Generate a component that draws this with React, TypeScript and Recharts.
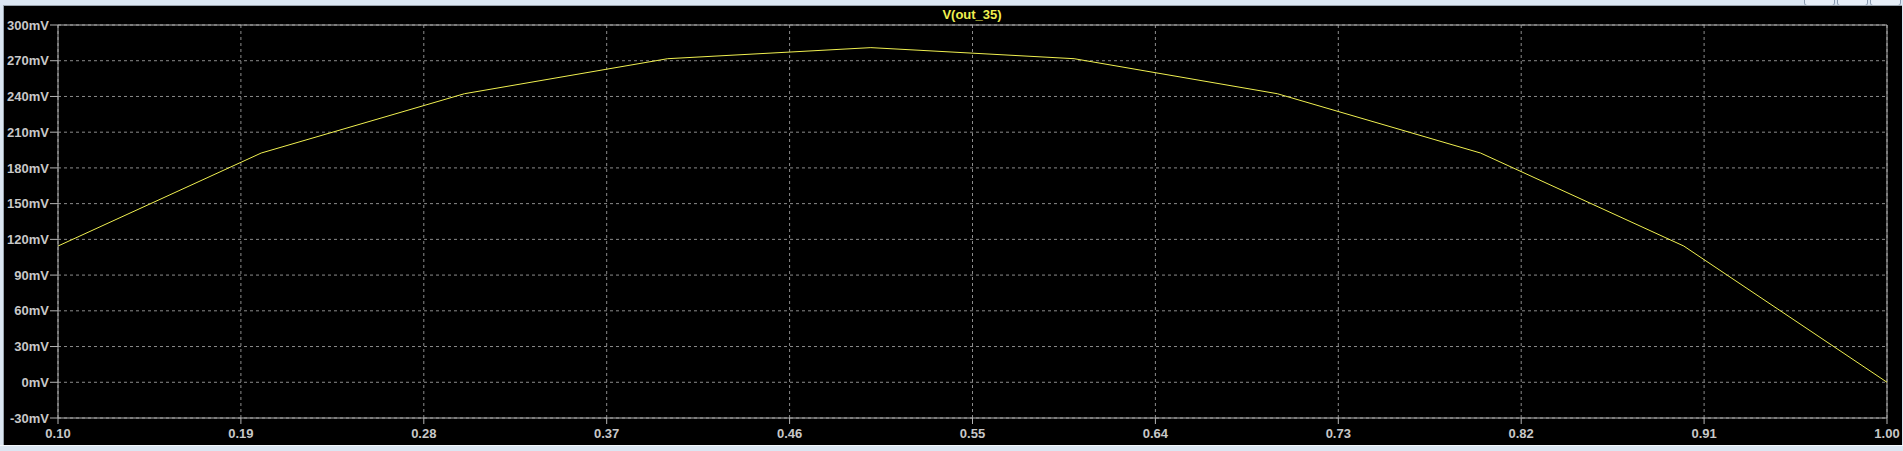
import React from 'react';
import { LineChart, Line, XAxis, YAxis, CartesianGrid, ReferenceLine } from 'recharts';

const xValues = [0.1, 0.2, 0.3, 0.4, 0.5, 0.6, 0.7, 0.8, 0.9, 1.0];
const outMv = [114.4, 192.5, 242.3, 271.7, 281, 271.7, 242.3, 192.5, 114.4, 0];
const xTicks = [0.1, 0.19, 0.28, 0.37, 0.46, 0.55, 0.64, 0.73, 0.82, 0.91, 1.0];
const yTicks = [-30, 0, 30, 60, 90, 120, 150, 180, 210, 240, 270, 300];

const data = xValues.map((x, i) => ({ x, v: outMv[i] }));

const labelFont = { fontFamily: '"Liberation Sans", Arial, sans-serif', fontSize: 13, fontWeight: 700, fill: '#c8c8c8' };
const axisGray = '#b4b4b4';
const gridGray = '#8c8c8c';

const WinButton = ({ left }: { left: number }) => (
  <div style={{ position: 'absolute', left, top: -6, width: 29, height: 10, border: '1px solid #8a9bb0', borderRadius: 3, background: '#e6eef7' }} />
);

export default function App() {
  return (
    <div style={{ position: 'fixed', left: 0, top: 0, width: 1903, height: 451, background: '#dbe6f2', overflow: 'hidden' }}>
      <WinButton left={1804} />
      <WinButton left={1837} />
      <WinButton left={1870} />
      <div style={{ position: 'absolute', left: 3, top: 5, width: 1898, height: 439, background: '#000', borderTop: '1px solid #9aa4ae', borderLeft: '1px solid #9aa4ae' }} />
      <div style={{ position: 'absolute', left: 0, top: 445, width: 1903, height: 1, background: '#f4f8fc' }} />
      <div style={{ position: 'absolute', left: 4, top: 0, width: 1897, height: 444, pointerEvents: 'none' }} />
      <div style={{ position: 'absolute', left: 0, top: 0 }}>
        <LineChart width={1903} height={451} data={data} margin={{ top: 25, right: 16, bottom: 0, left: 0 }}>
          <CartesianGrid stroke={gridGray} strokeDasharray="3 3" />
          <XAxis
            dataKey="x"
            type="number"
            domain={[0.1, 1.0]}
            ticks={xTicks}
            tickFormatter={(v: number) => v.toFixed(2)}
            height={33}
            tickSize={6}
            tickMargin={5}
            stroke={axisGray}
            tick={labelFont}
            interval={0}
            allowDataOverflow
          />
          <YAxis
            type="number"
            domain={[-30, 300]}
            ticks={yTicks}
            tickFormatter={(v: number) => `${v}mV`}
            width={58}
            tickSize={8}
            tickMargin={1}
            stroke={axisGray}
            tick={labelFont}
            interval={0}
            allowDataOverflow
          />
          <ReferenceLine y={300} stroke={axisGray} />
          <ReferenceLine x={1.0} stroke={axisGray} />
          <Line type="linear" dataKey="v" stroke="#f0f050" strokeWidth={1} dot={false} isAnimationActive={false} />
        </LineChart>
      </div>
      <div style={{ position: 'absolute', left: 872, width: 200, top: 7, textAlign: 'center', fontFamily: '"Liberation Sans", Arial, sans-serif', fontSize: 13, fontWeight: 700, color: '#f0f050' }}>
        V(out_35)
      </div>
    </div>
  );
}
